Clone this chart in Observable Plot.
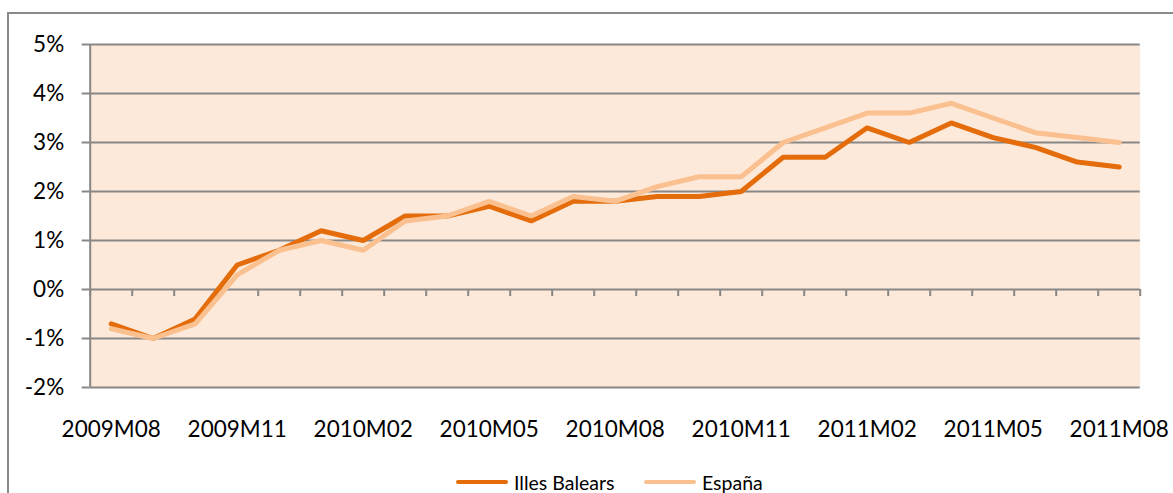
<!DOCTYPE html>
<html>
<head>
<meta charset="utf-8">
<script src="https://cdn.jsdelivr.net/npm/d3@7"></script>
<script src="https://cdn.jsdelivr.net/npm/@observablehq/plot@0.6"></script>
<style>
  html, body { margin: 0; padding: 0; background: #fff; }
  #wrap { position: relative; width: 1173px; height: 493px; overflow: hidden; font-family: Lato, "Open Sans", sans-serif; }
  #frame { position: absolute; left: 7px; top: 12px; width: 1400px; height: 700px; border-left: 2px solid #8a8a8a; border-top: 2px solid #8a8a8a; box-sizing: border-box; }
  #chart { position: absolute; left: 0; top: 0; }
  #legend { position: absolute; left: 0; top: 470px; width: 1173px; height: 24px; font-size: 19.5px; color: #000; }
  .item { position: absolute; top: 0; display: flex; align-items: center; height: 24px; }
  .sw { display: inline-block; width: 52px; height: 4px; margin-right: 6px; border-radius: 2px; }
</style>
</head>
<body>
<div id="wrap">
  <div id="frame"></div>
  <div id="chart"></div>
  <div id="legend"></div>
</div>
<script>
const months = ["2009M08","2009M09","2009M10","2009M11","2009M12","2010M01","2010M02","2010M03","2010M04","2010M05","2010M06","2010M07","2010M08","2010M09","2010M10","2010M11","2010M12","2011M01","2011M02","2011M03","2011M04","2011M05","2011M06","2011M07","2011M08"];
const illesBalears = [-0.7,-1.0,-0.6,0.5,0.8,1.2,1.0,1.5,1.5,1.7,1.4,1.8,1.8,1.9,1.9,2.0,2.7,2.7,3.3,3.0,3.4,3.1,2.9,2.6,2.5];
const espana = [-0.8,-1.0,-0.7,0.3,0.8,1.0,0.8,1.4,1.5,1.8,1.5,1.9,1.8,2.1,2.3,2.3,3.0,3.3,3.6,3.6,3.8,3.5,3.2,3.1,3.0];
const seriesNames = ["Illes Balears", "España"];
const seriesColors = ["#E46C0A", "#FAC090"];
const yTicks = [-2,-1,0,1,2,3,4,5];
const xLabelIdx = [0,3,6,9,12,15,18,21,24];

const rows = [];
[illesBalears, espana].forEach((vals, s) => vals.forEach((v, i) => rows.push({series: seriesNames[s], i, v})));
const bounds = d3.range(months.length + 1).map(k => k - 0.5);

const chart = Plot.plot({
  width: 1173,
  height: 455,
  marginTop: 44,
  marginBottom: 68,
  marginLeft: 89.7,
  marginRight: 33.3,
  style: { fontFamily: "Lato, 'Open Sans', sans-serif", fontSize: "22.5px", color: "#000", background: "transparent", overflow: "visible" },
  x: { domain: [-0.5, months.length - 0.5], label: null },
  y: { domain: [-2, 5], label: null },
  color: { domain: seriesNames, range: seriesColors },
  marks: [
    Plot.frame({ fill: "#FDE9D9", stroke: null }),
    Plot.gridY(yTicks, { stroke: "#878787", strokeOpacity: 1, strokeWidth: 2 }),
    Plot.ruleY(yTicks, { x1: -0.5, x2: -0.5, insetLeft: -8, stroke: "#878787", strokeWidth: 2 }),
    Plot.ruleX([-0.5], { y1: -2, y2: 5, stroke: "#878787", strokeWidth: 2 }),
    Plot.ruleX(bounds, { x: d => d, y1: 0, y2: 0, insetBottom: -7, stroke: "#878787", strokeWidth: 2 }),
    Plot.axisY(yTicks, { tickSize: 0, tickPadding: 26, tickFormat: d => d + "%", fontSize: 22.5, label: null }),
    Plot.axisX(xLabelIdx, { tickSize: 0, tickPadding: 34, tickFormat: i => months[i], fontSize: 22.5, label: null }),
    Plot.lineY(rows, { x: "i", y: "v", z: "series", stroke: "series", strokeWidth: 5, strokeLinecap: "round", strokeLinejoin: "miter" })
  ]
});
document.getElementById("chart").appendChild(chart);

const legend = document.getElementById("legend");
const lefts = [456, 644];
seriesNames.forEach((name, k) => {
  const it = document.createElement("div");
  it.className = "item";
  it.style.left = lefts[k] + "px";
  const sw = document.createElement("span");
  sw.className = "sw";
  sw.style.background = seriesColors[k];
  const t = document.createElement("span");
  t.textContent = name;
  it.appendChild(sw); it.appendChild(t);
  legend.appendChild(it);
});
</script>
</body>
</html>
